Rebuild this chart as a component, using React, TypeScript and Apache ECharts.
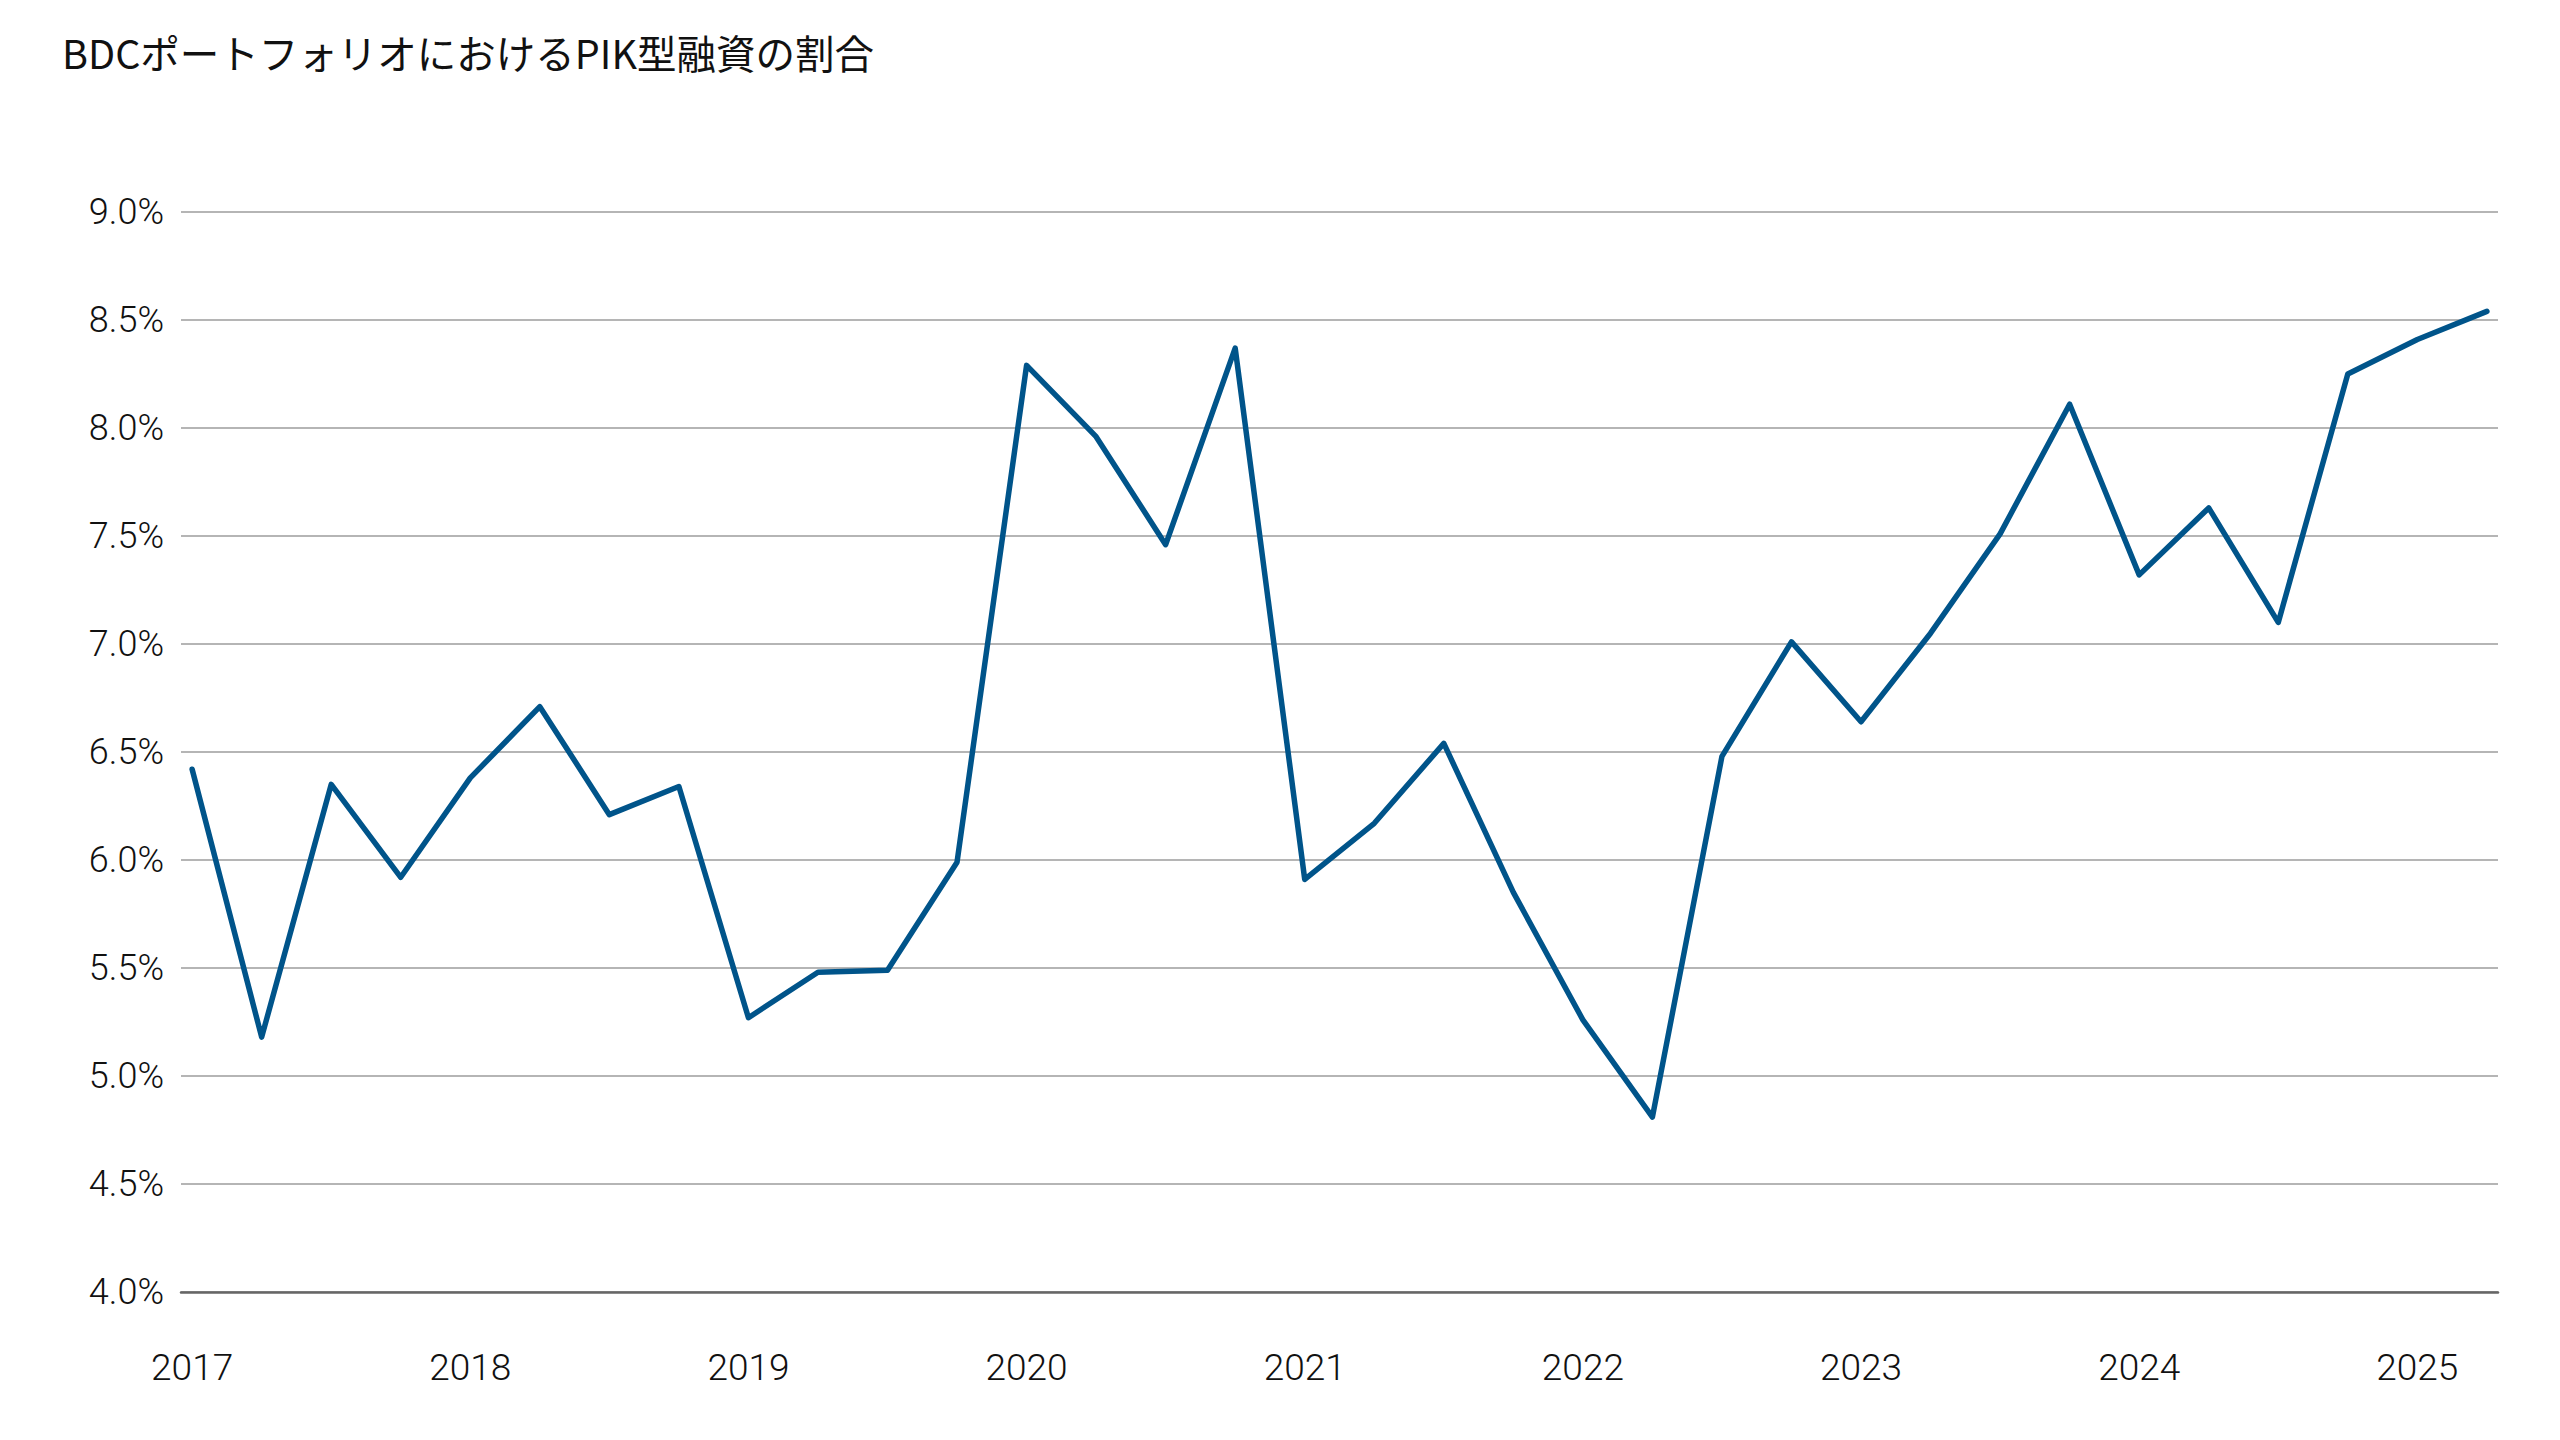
import { useEffect, useRef } from "react";
import * as echarts from "echarts";

const TITLE = "BDCポートフォリオにおけるPIK型融資の割合";

const QUARTERS = [
  "2017Q1", "2017Q2", "2017Q3", "2017Q4",
  "2018Q1", "2018Q2", "2018Q3", "2018Q4",
  "2019Q1", "2019Q2", "2019Q3", "2019Q4",
  "2020Q1", "2020Q2", "2020Q3", "2020Q4",
  "2021Q1", "2021Q2", "2021Q3", "2021Q4",
  "2022Q1", "2022Q2", "2022Q3", "2022Q4",
  "2023Q1", "2023Q2", "2023Q3", "2023Q4",
  "2024Q1", "2024Q2", "2024Q3", "2024Q4",
  "2025Q1", "2025Q2",
];

// PIK share of BDC portfolios, %
const PIK_SHARE = [
  6.42, 5.18, 6.35, 5.92,
  6.38, 6.71, 6.21, 6.34,
  5.27, 5.48, 5.49, 5.99,
  8.29, 7.96, 7.46, 8.37,
  5.91, 6.17, 6.54, 5.85,
  5.26, 4.81, 6.48, 7.01,
  6.64, 7.05, 7.51, 8.11,
  7.32, 7.63, 7.10, 8.25,
  8.41, 8.54,
];

const Y_MIN = 4;
const Y_MAX = 9;
const Y_STEP = 0.5;

const LABEL_FONT = "Roboto, 'Liberation Sans', sans-serif";

export default function App() {
  const ref = useRef<HTMLDivElement | null>(null);

  useEffect(() => {
    const el = ref.current;
    if (!el) return;
    const chart = echarts.init(el, null, { renderer: "svg" });

    const yearTicks = QUARTERS.map((q, i) => (q.endsWith("Q1") ? i : -1)).filter((i) => i >= 0);

    chart.setOption({
      animation: false,
      backgroundColor: "#ffffff",
      title: {
        text: TITLE,
        left: 57,
        top: 27,
        textStyle: {
          fontFamily: "'Noto Sans CJK JP', sans-serif",
          fontSize: 39.5,
          fontWeight: "normal",
          color: "#111111",
        },
      },
      grid: { left: 181, right: 62, top: 212, bottom: 148, containLabel: false },
      xAxis: {
        type: "value",
        min: -0.16,
        max: QUARTERS.length - 1 + 0.16,
        axisLine: { show: true, onZero: false, lineStyle: { color: "#666666", width: 2.5 } },
        axisTick: { show: false },
        splitLine: { show: false },
        axisLabel: {
          customValues: yearTicks,
          formatter: (v: number) => QUARTERS[Math.round(v)]?.slice(0, 4) ?? "",
          fontFamily: LABEL_FONT,
          fontSize: 37,
          fontWeight: 300,
          color: "#111111",
          margin: 57,
        },
      },
      yAxis: {
        type: "value",
        min: Y_MIN,
        max: Y_MAX,
        interval: Y_STEP,
        axisLine: { show: false },
        axisTick: { show: false },
        splitLine: { lineStyle: { color: "#9c9c9c", width: 1.5 } },
        axisLabel: {
          formatter: (v: number) => `${v.toFixed(1)}%`,
          fontFamily: LABEL_FONT,
          fontSize: 36,
          fontWeight: 300,
          color: "#111111",
          margin: 17,
        },
      },
      series: [
        {
          type: "line",
          data: PIK_SHARE.map((v, i) => [i, v]),
          showSymbol: false,
          symbol: "none",
          lineStyle: { color: "#00548A", width: 5.5, cap: "round", join: "round" },
        },
      ],
    });

    return () => chart.dispose();
  }, []);

  return (
    <div
      ref={ref}
      style={{ position: "absolute", left: 0, top: 0, width: 2560, height: 1440 }}
    />
  );
}
